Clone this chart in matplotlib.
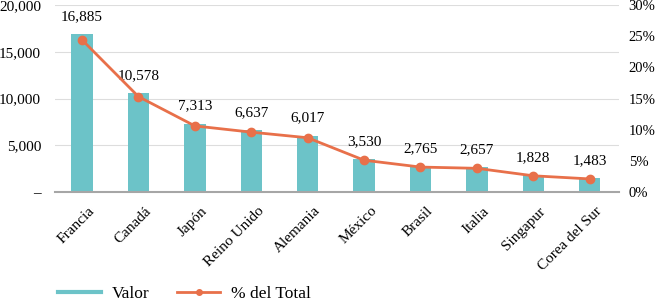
import numpy as np
import matplotlib
matplotlib.use('Agg')
import matplotlib.pyplot as plt
import matplotlib.transforms as mtransforms
from matplotlib.ticker import FuncFormatter

# data
paises = ['Francia', 'Canadá', 'Japón', 'Reino Unido', 'Alemania',
          'México', 'Brasil', 'Italia', 'Singapur', 'Corea del Sur']
valor = [16885, 10578, 7313, 6637, 6017, 3530, 2765, 2657, 1828, 1483]
pct_total = [24.4, 15.3, 10.6, 9.6, 8.7, 5.1, 4.0, 3.8, 2.6, 2.1]

plt.rcParams['font.family'] = ['Liberation Serif', 'DejaVu Serif']
plt.rcParams['font.size'] = 11

bar_color = '#6CC3C8'
line_color = '#E8704A'

fig = plt.figure(figsize=(6.58, 3.04), dpi=100)
ax = fig.add_axes([55/658, 1-192/304, (619-55)/658, (192-5)/304])
x = np.arange(len(paises))

bars = ax.bar(x, valor, width=0.38, color=bar_color, label='Valor', zorder=2)
ax.set_xlim(-0.48, 9.52)
ax.set_ylim(0, 20000)
ax.set_yticks([0, 5000, 10000, 15000, 20000])
ax.yaxis.set_major_formatter(FuncFormatter(lambda v, p: '–' if v == 0 else '{:,.0f}'.format(v)))
ax.grid(axis='y', color='#DDDDDD', lw=0.8, zorder=0)
ax.set_axisbelow(True)
for s in ['top', 'right', 'left']:
    ax.spines[s].set_visible(False)
ax.spines['bottom'].set_color('#A6A6A6')
ax.spines['bottom'].set_linewidth(1.5)
ax.tick_params(axis='both', length=0, labelsize=11)
ax.tick_params(axis='y', pad=10)
ax.tick_params(axis='x', pad=6)
ax.set_xticks(x)
ax.set_xticklabels(paises, rotation=45, ha='right', rotation_mode='anchor')
# nudge rotated labels a bit right/down like the original
shift = mtransforms.ScaledTranslation(6/100, -4/100, fig.dpi_scale_trans)
for lab in ax.get_xticklabels():
    lab.set_transform(lab.get_transform() + shift)

for xi, v in zip(x, valor):
    ax.annotate('{:,}'.format(v), (xi, v), xytext=(0, 8), textcoords='offset points',
                ha='center', va='bottom', fontsize=11)

ax2 = ax.twinx()
ax2.plot(x, pct_total, color=line_color, lw=2, marker='o', ms=6, label='% del Total', zorder=3)
ax2.set_ylim(0, 30)
ax2.set_yticks([0, 5, 10, 15, 20, 25, 30])
ax2.yaxis.set_major_formatter(FuncFormatter(lambda v, p: '{:.0f}%'.format(v)))
for s in ['top', 'right', 'left', 'bottom']:
    ax2.spines[s].set_visible(False)
ax2.tick_params(axis='y', length=0, labelsize=10.5, pad=7)

h1 = plt.Line2D([], [], color=bar_color, lw=3)
h2 = plt.Line2D([], [], color=line_color, lw=2, marker='o', ms=4)
fig.legend([h1, h2], ['Valor', '% del Total'], loc='lower left',
           bbox_to_anchor=(42/658, -0.045), ncol=2, frameon=False, fontsize=12.5,
           handlelength=2.5, handletextpad=0.6, columnspacing=1.6)

fig.savefig('out.png', dpi=100)
